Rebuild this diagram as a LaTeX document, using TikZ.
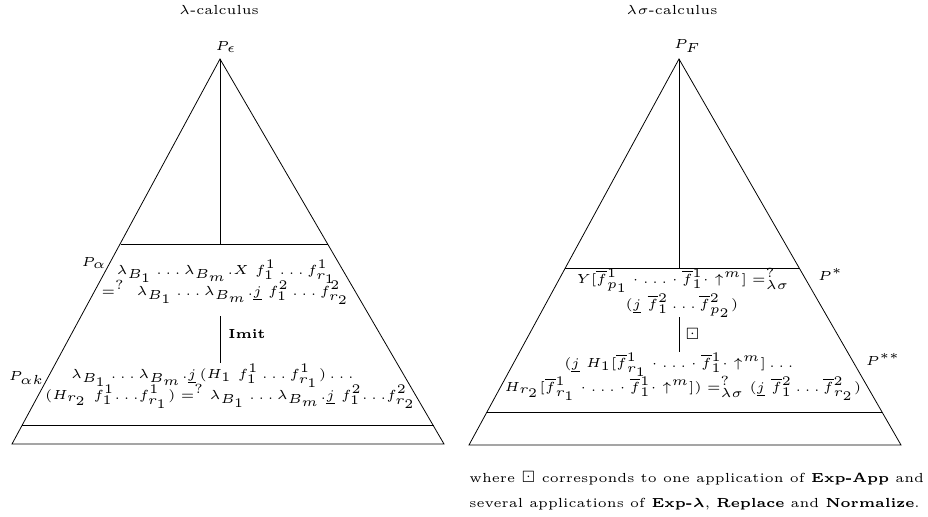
\documentclass[tikz,border=0pt]{standalone}
\usepackage{amssymb}
\DeclareMathSizes{5}{5}{5}{5}
\newcommand\mySz{\fontsize{5}{6}\selectfont}
\begin{document}
\mySz
\begin{tikzpicture}[x=0.38pt,y=-0.38pt,line width=0.3pt,
  lbl/.style={inner sep=0pt,anchor=base,font=\mySz},
  edge/.style={draw=black}]
\useasboundingbox (0,0) rectangle (928,517);
% ---------- left triangle ----------
\coordinate (LA) at (220,59);
\coordinate (LBL) at (12,444);
\coordinate (LBR) at (444,444);
\coordinate (LT1) at (120.5,244);
\coordinate (LT2) at (327.5,244);
\coordinate (LU1) at (22,425);
\coordinate (LU2) at (434,425);
\coordinate (LM) at (220,244);
\coordinate (LS1) at (220,316);
\coordinate (LS2) at (220,363);
\draw[edge] (LA) -- (LBL) -- (LBR) -- cycle;
\draw[edge] (LT1) -- (LT2);
\draw[edge] (LU1) -- (LU2);
\draw[edge] (LA) -- (LM);
\draw[edge] (LS1) -- (LS2);
\node[lbl] (ltitle) at (219,14) {$\lambda$-calculus};
\node[lbl] (peps) at (226,50) {$P_\epsilon$};
\node[lbl] (palpha) at (94,266) {$P_\alpha$};
\node[lbl] (palphak) at (26.5,380) {$P_{\alpha k}$};
\node[lbl,anchor=base west] (imit) at (228,338) {\textbf{Imit}};
\node[lbl] (l1) at (226.5,274) {$\lambda_{B_1}\ldots\lambda_{B_m}.X\ f_1^1\ldots f_{r_1}^1$};
\node[lbl] (l2) at (225.5,295) {$=^?\ \lambda_{B_1}\ldots\lambda_{B_m}.\underline{j}\ f_1^2\ldots f_{r_2}^2$};
\node[lbl] (l3) at (212.5,378) {$\lambda_{B_1}\ldots\lambda_{B_m}.\underline{j}\,(H_1\ f_1^1\ldots f_{r_1}^1)\ldots$};
\node[lbl] (l4) at (230.5,399) {$(H_{r_2}\ f_1^1\!\ldots\! f_{r_1}^1) =^? \lambda_{B_1}\ldots\lambda_{B_m}.\underline{j}\ f_1^2\!\ldots\! f_{r_2}^2$};
% ---------- right triangle ----------
\coordinate (RA) at (679,59);
\coordinate (RBL) at (469,445);
\coordinate (RBR) at (901,445);
\coordinate (RT1) at (565,268);
\coordinate (RT2) at (799,268);
\coordinate (RU1) at (487,412);
\coordinate (RU2) at (882,412);
\coordinate (RM) at (679,268);
\coordinate (RS1) at (679,317);
\coordinate (RS2) at (679,352);
\draw[edge] (RA) -- (RBL) -- (RBR) -- cycle;
\draw[edge] (RT1) -- (RT2);
\draw[edge] (RU1) -- (RU2);
\draw[edge] (RA) -- (RM);
\draw[edge] (RS1) -- (RS2);
\node[lbl] (rtitle) at (672,14) {$\lambda\sigma$-calculus};
\node[lbl] (pf) at (687.5,48) {$P_F$};
\node[lbl] (pstar) at (830.5,280) {$P^*$};
\node[lbl] (pss) at (883,365) {$P^{**}$};
\node[lbl,anchor=center] (boxd) at (692.5,334) {$\boxdot$};
\node[lbl] (r1) at (683,283) {$Y[\overline{f}^1_{p_1}\cdot\ldots\cdot\overline{f}^1_1\cdot\uparrow^m] =^?_{\lambda\sigma}$};
\node[lbl] (r2) at (682,308) {$(\underline{j}\ \overline{f}^2_1\ldots\overline{f}^2_{p_2})$};
\node[lbl] (r3) at (679,367) {$(\underline{j}\ H_1[\overline{f}^1_{r_1}\cdot\ldots\cdot\overline{f}^1_1\cdot\uparrow^m]\ldots$};
\node[lbl] (r4) at (683,391) {$H_{r_2}[\overline{f}^1_{r_1}\cdot\ldots\cdot\overline{f}^1_1\cdot\uparrow^m]) =^?_{\lambda\sigma} (\underline{j}\ \overline{f}^2_1\ldots\overline{f}^2_{r_2})$};
% ---------- note ----------
\node[lbl,anchor=base west] (n1) at (469,482) {where $\boxdot$ corresponds to one application of \textbf{Exp-App} and};
\node[lbl,anchor=base west] (n2) at (469,507) {several applications of \textbf{Exp-{\boldmath$\lambda$}}, \textbf{Replace} and \textbf{Normalize}.};
\end{tikzpicture}
\end{document}
